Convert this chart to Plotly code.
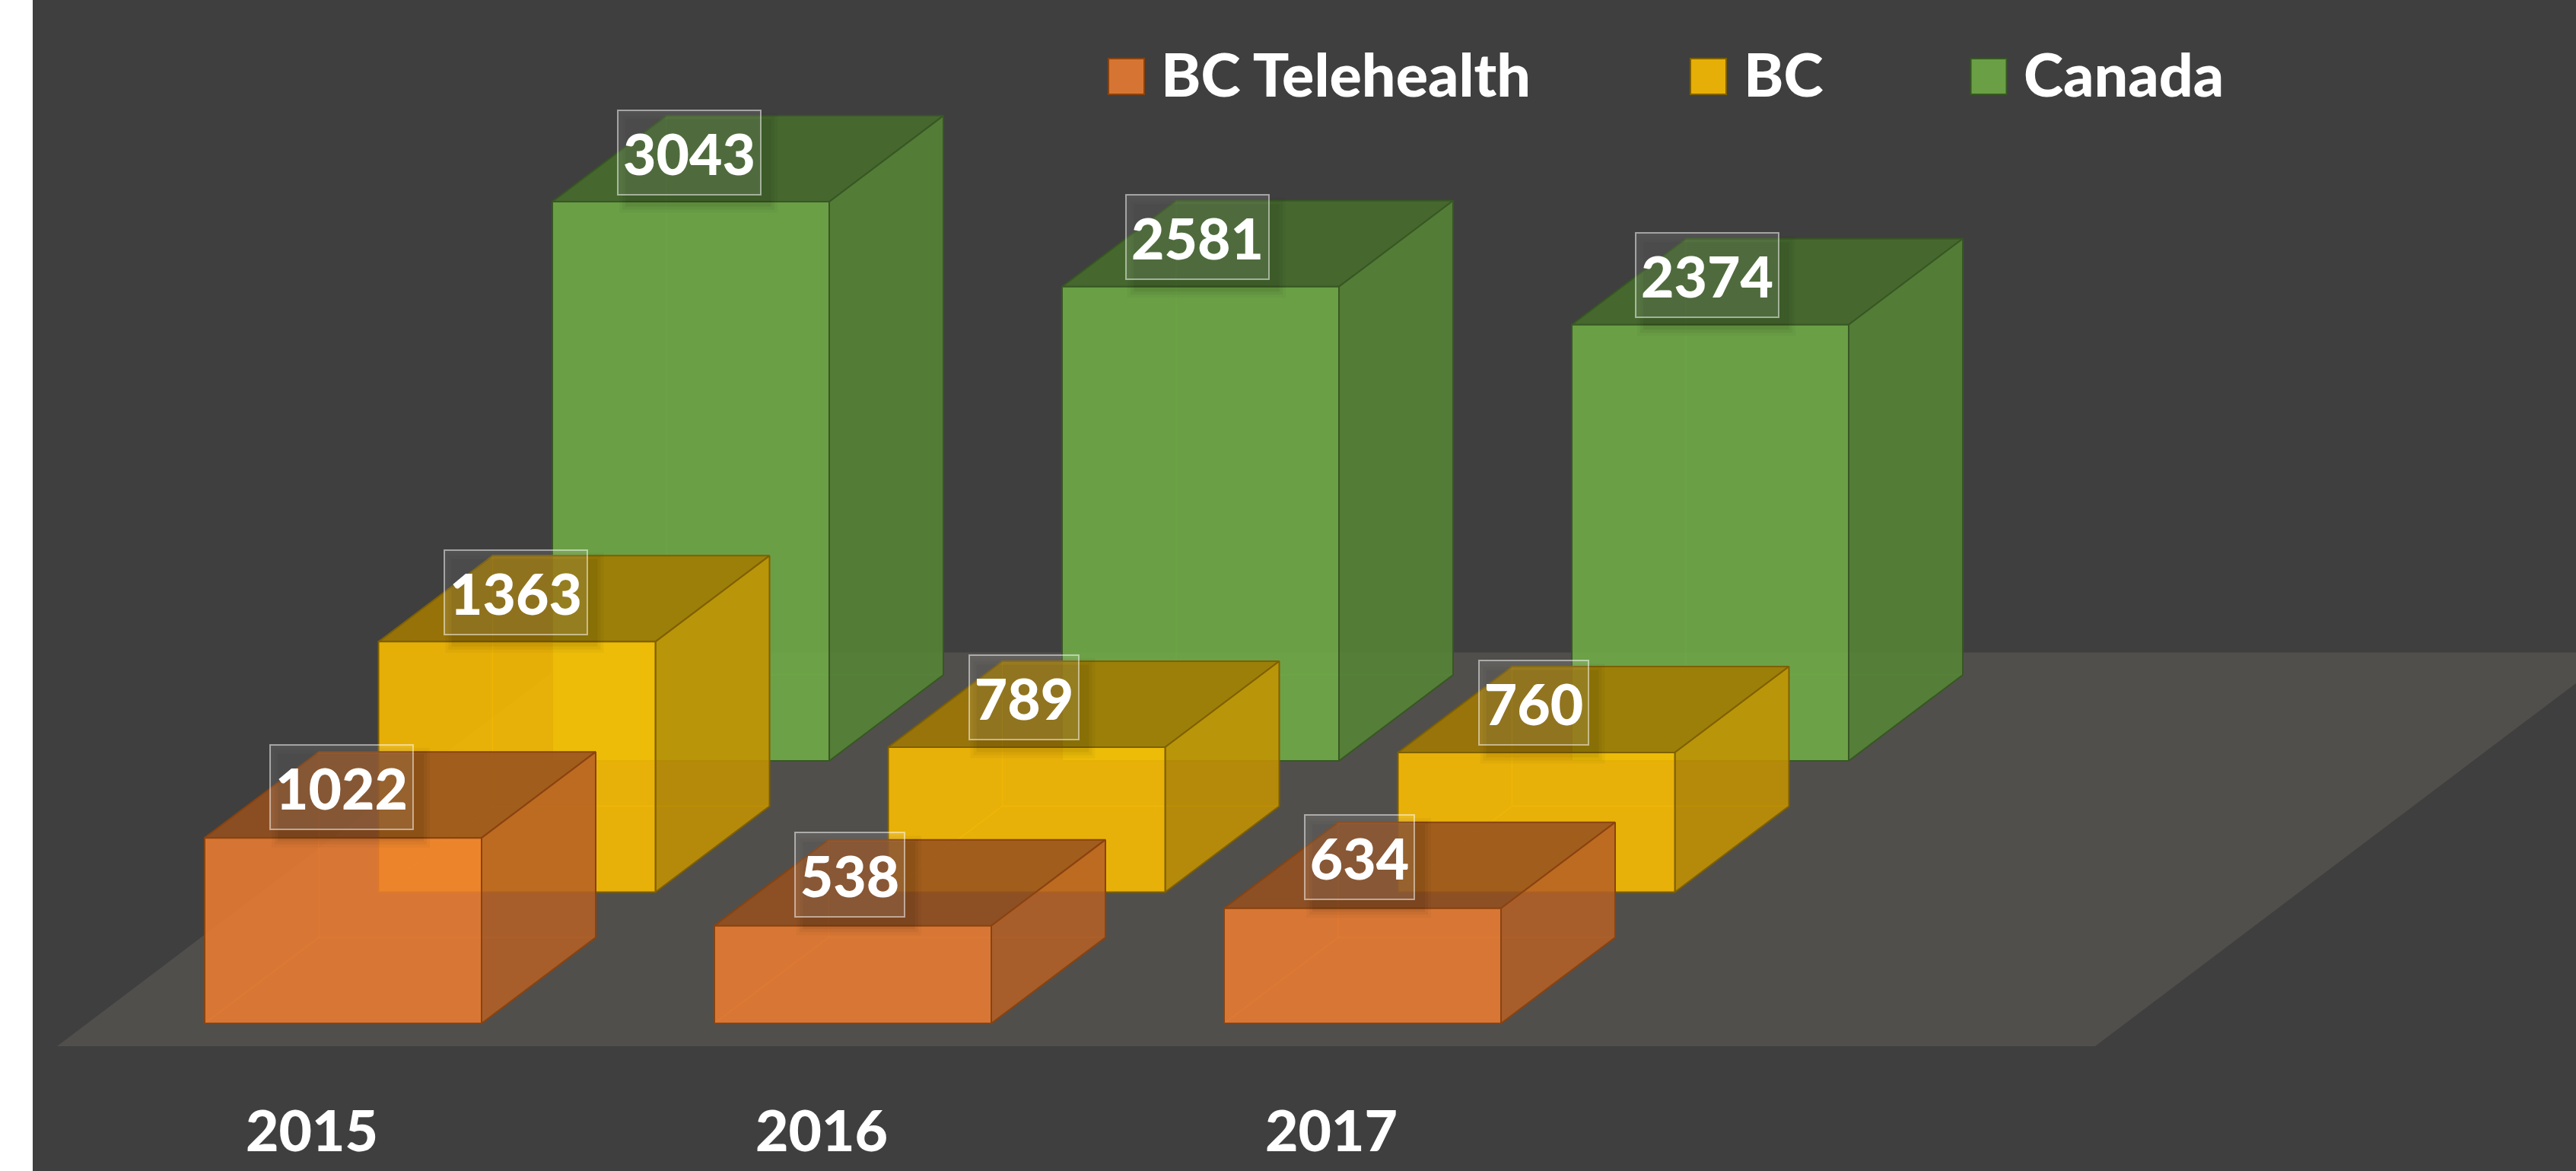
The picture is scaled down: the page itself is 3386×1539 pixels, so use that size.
import plotly.graph_objects as go

# ---- data ----
years = ["2015", "2016", "2017"]
series_names = ["BC Telehealth", "BC", "Canada"]
bc_telehealth = [1022, 538, 634]
bc = [1363, 789, 760]
canada = [3043, 2581, 2374]

# ---- styles ----
BG = "#3f3f3f"
FLOOR = "#514f4c"
BASE = [(237, 125, 49), (255, 192, 0), (112, 173, 71)]
EDGE = ["#8a430f", "#7f6000", "#385723"]
ALPHA = 0.87
FONT = "Lato"
WEIGHT = 900
LABEL_SIZE = 75
LEGEND_SIZE = 79

W, H = 3386, 1539
ML, MB = 43, 102
PX_PER_CAT = 670.0
PX_PER_UNIT = 0.2415
ROW_SCALE = [0.988, 1.0, 1.0]
X0_PX, Y0_PX = 410.0, 1345.0      # pixel of category 0 tick / value 0 on the front row
PLOT_BOTTOM = H - MB

x_range = [(ML - X0_PX) / PX_PER_CAT, (W - X0_PX) / PX_PER_CAT]
y_range = [(Y0_PX - PLOT_BOTTOM) / PX_PER_UNIT, Y0_PX / PX_PER_UNIT]

# oblique projection (everything in axis units)
BAR_LEFT = -141 / PX_PER_CAT
BAR_W = 364 / PX_PER_CAT
ROW_DX, ROW_DY = 228.5 / PX_PER_CAT, 172.5 / PX_PER_UNIT
DEPTH_DX, DEPTH_DY = 150 / PX_PER_CAT, 113 / PX_PER_UNIT


def rgba(c, k=1.0, a=ALPHA):
    return "rgba(%d,%d,%d,%.3f)" % (c[0] * k, c[1] * k, c[2] * k, a)


def pt(cat, row, dx=0.0, depth=0.0, v=0.0):
    return (cat + BAR_LEFT + row * ROW_DX + dx * BAR_W + depth * DEPTH_DX,
            v * ROW_SCALE[row] + row * ROW_DY + depth * DEPTH_DY)


fig = go.Figure()


def poly(points, fill, line, lw=2.0):
    xs = [p[0] for p in points] + [points[0][0]]
    ys = [p[1] for p in points] + [points[0][1]]
    fig.add_trace(go.Scatter(x=xs, y=ys, mode="lines", fill="toself", fillcolor=fill,
                             line=dict(color=line, width=lw), showlegend=False, hoverinfo="skip"))


def seg(points, color, lw=1.5):
    fig.add_trace(go.Scatter(x=[p[0] for p in points], y=[p[1] for p in points], mode="lines",
                             line=dict(color=color, width=lw), showlegend=False, hoverinfo="skip"))


# floor
FRONT = -30 / 172.5
BACK = (Y0_PX - 857.5) / 172.5
FL_L, FL_R = -335 / PX_PER_CAT, 2344 / PX_PER_CAT
fl_shift = (BACK - FRONT) * ROW_DX
fig.add_trace(go.Scatter(
    x=[FL_L, FL_R, FL_R + fl_shift, FL_L + fl_shift, FL_L],
    y=[FRONT * ROW_DY, FRONT * ROW_DY, BACK * ROW_DY, BACK * ROW_DY, FRONT * ROW_DY],
    mode="lines", fill="toself", fillcolor=FLOOR, line=dict(width=0), showlegend=False, hoverinfo="skip"))

values = [bc_telehealth, bc, canada]
for row in (2, 1, 0):
    c = BASE[row]
    for cat, v in enumerate(values[row]):
        # hidden back edges seen through the translucent box
        corner = pt(cat, row, 0, 1, 0)
        hidden = rgba(c, 1.0, 0.32)
        seg([pt(cat, row, 0, 0, 0), corner, pt(cat, row, 0, 1, v)], hidden)
        seg([corner, pt(cat, row, 1, 1, 0)], hidden)
        # top, right, front faces
        poly([pt(cat, row, 0, 0, v), pt(cat, row, 1, 0, v), pt(cat, row, 1, 1, v), pt(cat, row, 0, 1, v)],
             rgba(c, 0.64), EDGE[row])
        poly([pt(cat, row, 1, 0, 0), pt(cat, row, 1, 1, 0), pt(cat, row, 1, 1, v), pt(cat, row, 1, 0, v)],
             rgba(c, 0.77), EDGE[row])
        poly([pt(cat, row, 0, 0, 0), pt(cat, row, 1, 0, 0), pt(cat, row, 1, 0, v), pt(cat, row, 0, 0, v)],
             rgba(c), EDGE[row])

# value labels with soft shadow
annotations = []
shapes = [dict(type="rect", xref="paper", yref="paper", x0=-ML / (W - ML), x1=0, y0=-1, y1=2,
               fillcolor="white", line=dict(width=0), layer="above")]
BOX_H = 113
BOX_UP = [67, 65, 65]
CAT_NUDGE = [-2, -4, -4]
for row in (2, 1, 0):
    for cat, v in enumerate(values[row]):
        box_w = 190 if v >= 1000 else 146
        x, y = pt(cat, row, 0.5, 0, v)
        x += CAT_NUDGE[cat] / PX_PER_CAT
        up = BOX_UP[row]
        for grow, a in ((9, 0.03), (5, 0.04), (1, 0.05)):
            shapes.append(dict(type="rect", layer="above", xref="x", yref="y",
                               xsizemode="pixel", ysizemode="pixel", xanchor=x, yanchor=y,
                               x0=-box_w / 2 + 12 - grow, x1=box_w / 2 + 12 + grow,
                               y0=up - BOX_H / 2 - 14 - grow, y1=up + BOX_H / 2 - 14 + grow,
                               fillcolor="rgba(0,0,0,%.2f)" % a, line=dict(width=0)))
        annotations.append(dict(x=x, y=y, xref="x", yref="y", text=str(v), showarrow=False,
                                xanchor="center", yanchor="middle", yshift=up,
                                width=box_w - 4, height=BOX_H - 4, align="center", valign="middle",
                                borderwidth=2, borderpad=0, bordercolor="rgba(255,255,255,0.5)",
                                bgcolor="rgba(255,255,255,0.1)",
                                font=dict(family=FONT, size=LABEL_SIZE, color="white", weight=WEIGHT)))

# legend row
LEG_SWATCH_PX = [1480.5, 2245.5, 2614]
LEG_TEXT_PX = [1525, 2291, 2659]
LEG_Y_PX = 100.5
for name, c, e, sx, tx in zip(series_names, BASE, EDGE, LEG_SWATCH_PX, LEG_TEXT_PX):
    fig.add_trace(go.Scatter(x=[(sx - X0_PX) / PX_PER_CAT], y=[(Y0_PX - LEG_Y_PX) / PX_PER_UNIT], mode="markers",
                             name=name, showlegend=False, hoverinfo="name",
                             marker=dict(symbol="square", size=47, color=rgba(c), line=dict(color=e, width=2))))
    annotations.append(dict(x=(tx - X0_PX) / PX_PER_CAT, y=(Y0_PX - 96) / PX_PER_UNIT, xref="x", yref="y",
                            text=name, showarrow=False, xanchor="left", yanchor="middle",
                            borderpad=0, font=dict(family=FONT, size=LEGEND_SIZE, color="white", weight=WEIGHT)))

fig.update_layout(
    width=W, height=H, margin=dict(l=ML, r=0, t=0, b=MB, pad=0),
    paper_bgcolor=BG, plot_bgcolor=BG, showlegend=False,
    annotations=annotations, shapes=shapes,
    xaxis=dict(range=x_range, tickvals=list(range(len(years))), ticktext=years, showgrid=False,
               zeroline=False, showline=False, ticks="", fixedrange=True,
               tickfont=dict(family=FONT, size=LABEL_SIZE, color="white", weight=WEIGHT)),
    yaxis=dict(range=y_range, showgrid=False, zeroline=False, showline=False, ticks="",
               showticklabels=False, fixedrange=True),
)

fig.write_html("out.html", config={"displayModeBar": False},
               post_script="document.body.style.margin='0';document.body.style.overflow='hidden';")
